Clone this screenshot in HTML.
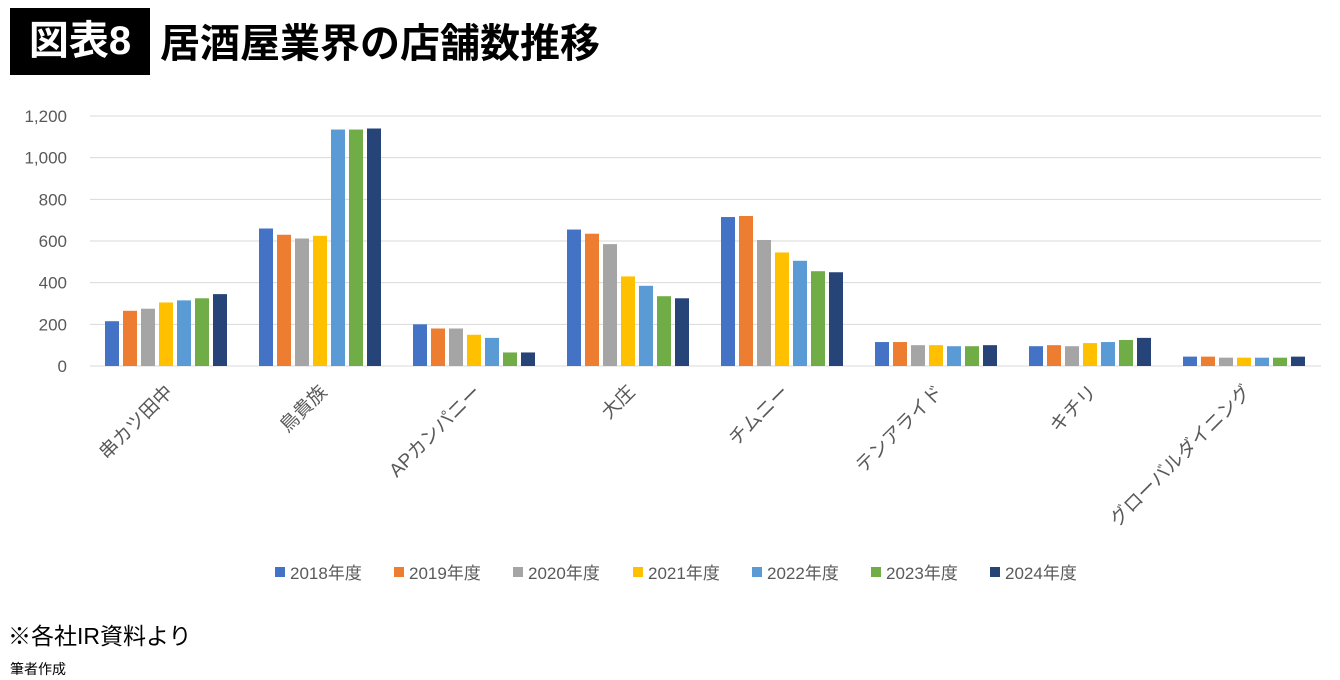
<!DOCTYPE html>
<html><head><meta charset="utf-8"><style>
body{margin:0;width:1340px;height:680px;background:#fff;overflow:hidden;font-family:"Liberation Sans","Noto Sans CJK JP",sans-serif;position:relative}
#badge{position:absolute;left:10px;top:8px;width:140px;height:67px;background:#000;color:#fff;font-size:40px;font-weight:bold;line-height:67px;text-align:center}
#title{position:absolute;left:160px;top:8px;height:67px;line-height:72px;font-size:40px;font-weight:bold;color:#000}
#src{position:absolute;left:8px;top:617px;font-size:23px;color:#000}
#auth{position:absolute;left:10px;top:659px;font-size:14px;color:#000}
svg{position:absolute;left:0;top:0}
</style></head><body>
<div id="badge">図表8</div>
<div id="title">居酒屋業界の店舗数推移</div>
<svg id="chart" width="1340" height="680"></svg>
<div id="src">※各社IR資料より</div>
<div id="auth">筆者作成</div>
<script>
const categories=["串カツ田中","鳥貴族","APカンパニー","大庄","チムニー","テンアライド","キチリ","グローバルダイニング"];
const seriesNames=["2018年度","2019年度","2020年度","2021年度","2022年度","2023年度","2024年度"];
const colors=["#4472C4","#ED7D31","#A5A5A5","#FFC000","#5B9BD5","#70AD47","#264478"];
const s2018=[215,660,200,655,715,115,95,45];
const s2019=[265,630,180,635,720,115,100,45];
const s2020=[275,612,180,585,605,100,95,40];
const s2021=[305,625,150,430,545,100,110,40];
const s2022=[315,1135,135,385,505,95,115,40];
const s2023=[325,1135,65,335,455,95,125,40];
const s2024=[345,1140,65,325,450,100,135,45];
const series=[s2018,s2019,s2020,s2021,s2022,s2023,s2024];
const yTicks=[0,200,400,600,800,1000,1200];
const yTickLabels=["0","200","400","600","800","1,000","1,200"];
const NS="http://www.w3.org/2000/svg";
const svg=document.getElementById('chart');
const x0=90,groupW=154,y0=366,yTop=116,yMax=1200;
const y=v=>y0-(v/yMax)*(y0-yTop);
function mk(t,a){const e=document.createElementNS(NS,t);for(const k in a)e.setAttribute(k,a[k]);svg.appendChild(e);return e;}
yTicks.forEach((t,i)=>{
  const l=mk('line',{x1:x0,x2:1321,y1:y(t),y2:y(t),stroke:'#d9d9d9','stroke-width':1});
  
  
  const tx=mk('text',{x:67,y:y(t)+6,'text-anchor':'end','font-size':17,fill:'#595959'});
  tx.textContent=yTickLabels[i];
  
  
});
categories.forEach((c,ci)=>{
  const gx=x0+ci*groupW;
  series.forEach((s,si)=>{
    const r=mk('rect',{x:gx+15+si*18,y:y(s[ci]),width:14,height:y0-y(s[ci]),fill:colors[si]});
    
    
  });
  const cx=gx+84;
  const t=mk('text',{x:cx,y:393,'text-anchor':'end','font-size':19,fill:'#595959',transform:`rotate(-45 ${cx} 393)`});
  t.textContent=c;
  
  
});
const lx=[275,394,513,633,752,871,990];
seriesNames.forEach((n,i)=>{
  const r=mk('rect',{x:lx[i],y:567,width:10,height:10,fill:colors[i]});
  
  
  const t=mk('text',{x:lx[i]+15,y:579,'font-size':17,fill:'#595959'});
  t.textContent=n;
  
  
});
</script>
</body></html>
